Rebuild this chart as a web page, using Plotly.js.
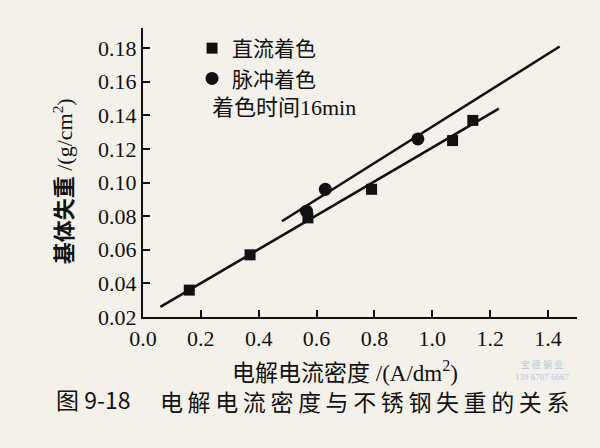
<!DOCTYPE html>
<html>
<head>
<meta charset="utf-8">
<script src="https://cdn.plot.ly/plotly-3.0.1.min.js"></script>
<style>body{margin:0;background:#f3f1ea;} #chart{width:600px;height:448px;}</style>
</head>
<body>
<div id="chart"></div>
<script>
// Data
const dcX = [0.16, 0.37, 0.57, 0.79, 1.07, 1.14];
const dcY = [0.036, 0.057, 0.079, 0.096, 0.125, 0.137];
const pulseX = [0.565, 0.63, 0.95];
const pulseY = [0.083, 0.096, 0.126];
const dcFitX = [0.06, 1.23];
const dcFitY = [0.026, 0.144];
const pulseFitX = [0.48, 1.44];
const pulseFitY = [0.077, 0.181];
const xTicks = [0.0, 0.2, 0.4, 0.6, 0.8, 1.0, 1.2, 1.4];
const yTicks = [0.02, 0.04, 0.06, 0.08, 0.10, 0.12, 0.14, 0.16, 0.18];
const legendNames = ['直流着色', '脉冲着色'];
const noteText = '着色时间16min';
const captionNum = '图 9-18';
const captionText = '电解电流密度与不锈钢失重的关系';

const font = 'Liberation Serif, Noto Sans CJK SC, serif';
const cjk = 'Noto Sans CJK SC, serif';
const ink = '#111111';

const traces = [
  {x: dcFitX, y: dcFitY, mode: 'lines', line: {color: ink, width: 2.6}, showlegend: false, hoverinfo: 'skip'},
  {x: pulseFitX, y: pulseFitY, mode: 'lines', line: {color: ink, width: 2.6}, showlegend: false, hoverinfo: 'skip'},
  {x: dcX, y: dcY, mode: 'markers', name: legendNames[0], marker: {symbol: 'square', size: 11, color: ink}},
  {x: pulseX, y: pulseY, mode: 'markers', name: legendNames[1], marker: {symbol: 'circle', size: 13, color: ink}}
];

const spaced = captionText.split('').join('\u2009');

const layout = {
  width: 600, height: 448,
  paper_bgcolor: '#f3f1ea', plot_bgcolor: 'rgba(0,0,0,0)',
  margin: {l: 143, r: 23, t: 28, b: 131},
  font: {family: font, color: ink, size: 22},
  showlegend: true,
  legend: {x: 0.113, y: 1.0, xanchor: 'left', yanchor: 'top', bgcolor: 'rgba(0,0,0,0)',
           font: {family: cjk, size: 21, color: ink}, itemwidth: 30, tracegroupgap: 0},
  xaxis: {
    range: [0, 1.5], tickvals: xTicks, ticktext: xTicks.map(v => v.toFixed(1)),
    ticks: 'inside', ticklen: 7, tickwidth: 2, tickcolor: ink,
    showline: true, linewidth: 2.2, linecolor: ink, showgrid: false, zeroline: false,
    tickfont: {family: font, size: 22, color: ink}
  },
  yaxis: {
    range: [0.02, 0.192], tickvals: yTicks, ticktext: yTicks.map(v => v.toFixed(2)),
    ticks: 'inside', ticklen: 7, tickwidth: 2, tickcolor: ink,
    showline: true, linewidth: 2.2, linecolor: ink, showgrid: false, zeroline: false,
    tickfont: {family: font, size: 22, color: ink}
  },
  annotations: [
    {text: '<b>基体失重</b> /(g/cm<sup>2</sup>)', textangle: -90, xref: 'paper', yref: 'paper',
     x: -0.184, y: 0.47, xanchor: 'center', yanchor: 'middle', showarrow: false,
     font: {family: font, size: 22, color: ink}},
    {text: '电解电流密度 /(A/dm<sup>2</sup>)', xref: 'paper', yref: 'paper',
     x: 0.465, y: -0.19, xanchor: 'center', yanchor: 'middle', showarrow: false,
     font: {family: font, size: 23, color: ink}},
    {text: noteText, xref: 'paper', yref: 'paper', x: 0.155, y: 0.725, xanchor: 'left', yanchor: 'middle',
     showarrow: false, font: {family: font, size: 22, color: ink}},
    {text: captionNum, xref: 'paper', yref: 'paper', x: -0.204, y: -0.285,
     xanchor: 'left', yanchor: 'middle', showarrow: false, font: {family: cjk, size: 23, color: ink}},
    {text: spaced, xref: 'paper', yref: 'paper', x: 0.034, y: -0.29,
     xanchor: 'left', yanchor: 'middle', showarrow: false, font: {family: cjk, size: 23, color: ink}},
    {text: '宝 德 钢 业<br>139 6707 6667', xref: 'paper', yref: 'paper', x: 0.92, y: -0.185,
     xanchor: 'center', yanchor: 'middle', showarrow: false, font: {family: font, size: 9, color: '#b8c6e0'}}
  ]
};

Plotly.newPlot('chart', traces, layout, {displayModeBar: false, staticPlot: true});
</script>
</body>
</html>
